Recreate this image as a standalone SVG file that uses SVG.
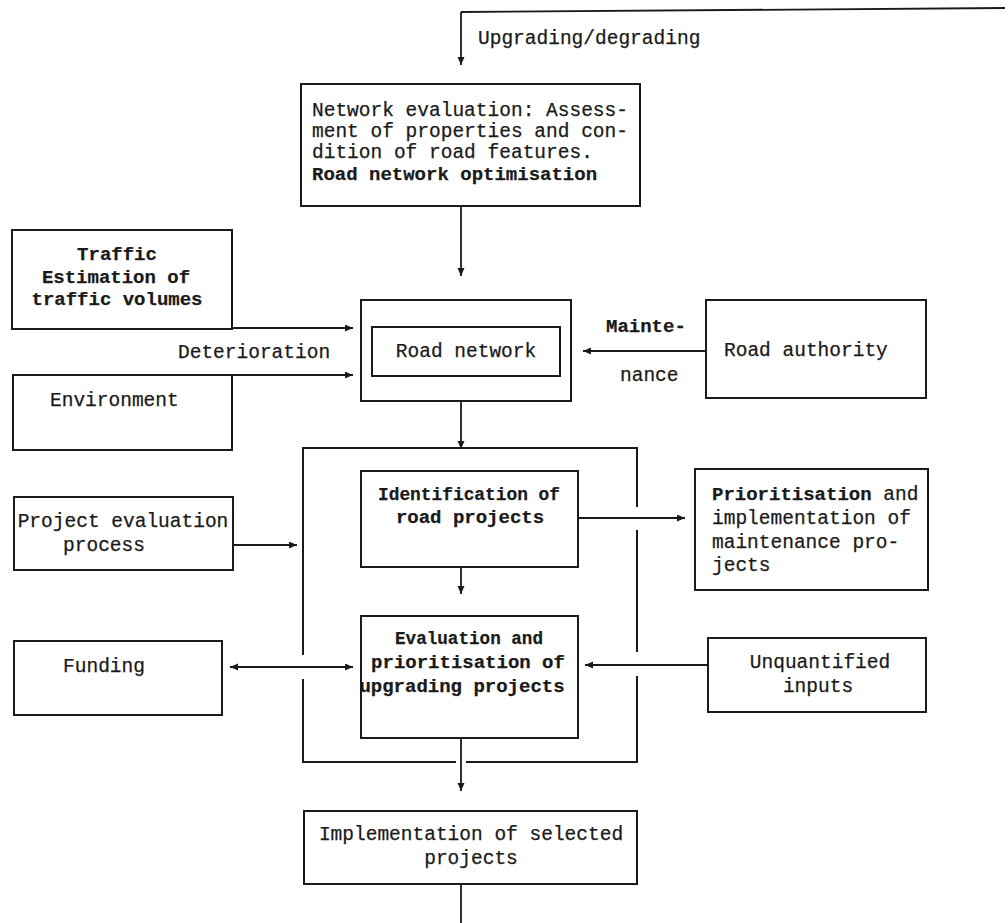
<svg xmlns="http://www.w3.org/2000/svg" width="1008" height="923" viewBox="0 0 1008 923">
<defs>
<marker id="ah" markerUnits="userSpaceOnUse" markerWidth="10" markerHeight="8" refX="8" refY="3.5" orient="auto-start-reverse">
<path d="M0,0 L8,3.5 L0,7 z" fill="#1a1a1a"/>
</marker>
<style>
.box{fill:none;stroke:#1a1a1a;stroke-width:2}
.ln{fill:none;stroke:#1a1a1a;stroke-width:1.8}
.ar{fill:none;stroke:#1a1a1a;stroke-width:1.8;marker-end:url(#ah)}
text{font-family:"Liberation Mono","DejaVu Sans Mono",monospace;font-size:19.5px;fill:#1a1a1a;stroke:#1a1a1a;stroke-width:0.25}
.b{font-weight:bold;font-size:19px}
.c{text-anchor:middle}
</style>
</defs>
<rect width="1008" height="923" fill="#ffffff"/>

<g id="connectors">
<path class="ln" d="M1005 8 L461 12"/>
<path class="ar" d="M461 12 V65"/>
<path class="ar" d="M461 206 V276"/>
<path class="ar" d="M232 328 H353"/>
<path class="ar" d="M232 375 H353"/>
<path class="ar" d="M706 351 H583"/>
<path class="ar" d="M461 401 V449"/>
<path class="ar" d="M578 518 H685"/>
<path class="ar" d="M233 545 H297"/>
<path class="ar" d="M461 567 V594"/>
<path class="ln" d="M230 667 H353" marker-start="url(#ah)" marker-end="url(#ah)"/>
<path class="ar" d="M708 665 H585"/>
<path class="ar" d="M461 738 V791"/>
<path class="ln" d="M461 884 V923"/>
</g>

<g id="upgrading-label"><text x="478" y="44">Upgrading/degrading</text></g>
<g id="deterioration-label"><text x="178" y="358">Deterioration</text></g>
<g id="maintenance-label"><text x="606" y="332" class="b">Mainte-</text><text x="620" y="381">nance</text></g>

<g id="network-evaluation">
<rect class="box" x="301" y="84" width="339" height="122"/>
<text x="312" y="116">Network evaluation: Assess-</text>
<text x="312" y="137">ment of properties and con-</text>
<text x="312" y="158">dition of road features.</text>
<text x="312" y="180" class="b">Road network optimisation</text>
</g>

<g id="traffic">
<rect class="box" x="12" y="230" width="220" height="99"/>
<text x="117" y="260" class="b c">Traffic</text>
<text x="116" y="283" class="b c">Estimation of</text>
<text x="117" y="305" class="b c">traffic volumes</text>
</g>

<g id="environment">
<rect class="box" x="13" y="375" width="219" height="75"/>
<text x="50" y="406">Environment</text>
</g>

<g id="road-network">
<rect class="box" x="361" y="300" width="210" height="101"/>
<rect class="box" x="372" y="327" width="188" height="49"/>
<text x="466" y="357" class="c">Road network</text>
</g>

<g id="road-authority">
<rect class="box" x="706" y="300" width="220" height="98"/>
<text x="724" y="356">Road authority</text>
</g>

<g id="container">
<path class="box" d="M303 655 V448 H637 V507 M637 530 V652 M637 676 V762 H466 M456 762 H303 V679"/>
</g>

<g id="identification">
<rect class="box" x="361" y="471" width="217" height="96"/>
<text x="378" y="500" class="b" textLength="182" lengthAdjust="spacingAndGlyphs">Identification of</text>
<text x="470" y="523" class="b c">road projects</text>
</g>

<g id="prioritisation">
<rect class="box" x="695" y="469" width="233" height="121"/>
<text x="712" y="500"><tspan class="b">Prioritisation</tspan> and</text>
<text x="712" y="524">implementation of</text>
<text x="712" y="548">maintenance pro-</text>
<text x="712" y="571">jects</text>
</g>

<g id="project-evaluation">
<rect class="box" x="14" y="497" width="219" height="73"/>
<text x="123" y="527" class="c">Project evaluation</text>
<text x="104" y="551" class="c">process</text>
</g>

<g id="evaluation">
<rect class="box" x="361" y="616" width="217" height="122"/>
<text x="395" y="644" class="b" textLength="148" lengthAdjust="spacingAndGlyphs">Evaluation and</text>
<text x="468" y="668" class="b c">prioritisation of</text>
<text x="462" y="692" class="b c">upgrading projects</text>
</g>

<g id="funding">
<rect class="box" x="14" y="641" width="208" height="74"/>
<text x="104" y="672" class="c">Funding</text>
</g>

<g id="unquantified">
<rect class="box" x="708" y="638" width="218" height="74"/>
<text x="820" y="668" class="c">Unquantified</text>
<text x="818" y="692" class="c">inputs</text>
</g>

<g id="implementation">
<rect class="box" x="304" y="811" width="333" height="73"/>
<text x="471" y="840" class="c">Implementation of selected</text>
<text x="471" y="864" class="c">projects</text>
</g>
</svg>
